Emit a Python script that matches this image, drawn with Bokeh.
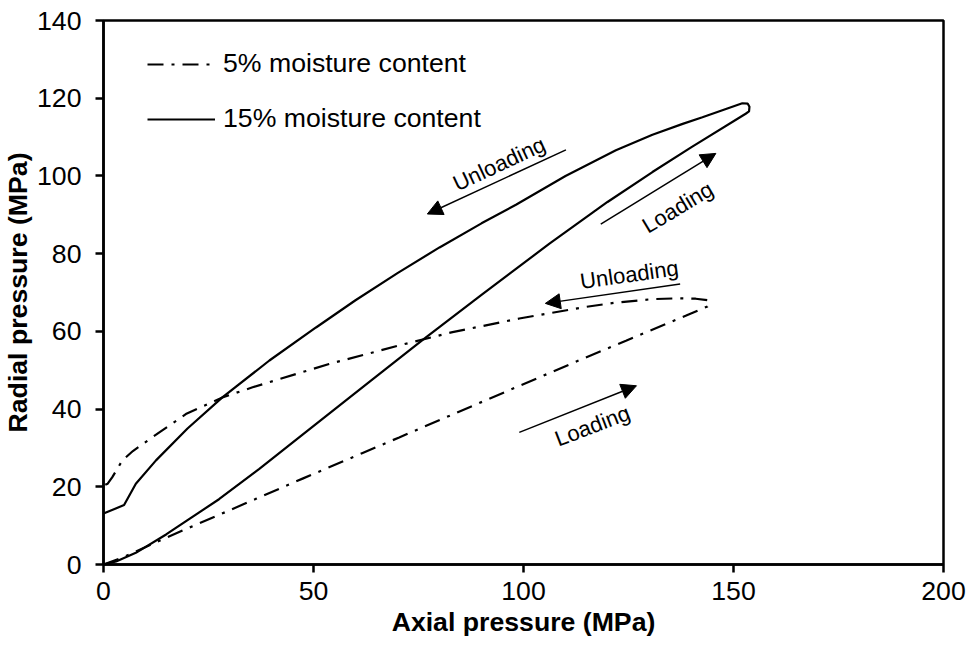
from bokeh.plotting import figure
from bokeh.models import Range1d, Legend, LegendItem, Arrow, NormalHead, Label
from bokeh.embed import file_html
from bokeh.resources import INLINE

# ---- data ----
x5_load = [0, 5, 11.7, 20, 26.7, 36.3, 47.4, 61.7, 70.4, 83.1, 98.2, 106.9, 114, 124.4, 129.9, 138.6, 143.8, 144.3, 144.0]
y5_load = [0, 2.0, 5.3, 9.3, 12.4, 16.9, 22.1, 28.7, 32.7, 38.6, 45.6, 49.6, 52.9, 57.6, 60.1, 64.0, 66.4, 67.2, 68.0]
x5_unload = [144.0, 141, 137, 130.7, 122, 114.8, 99, 83.1, 71.2, 53.7, 35.5, 28.3, 19.6, 11.7, 7, 4.5, 2.1, 1, 0]
y5_unload = [68.0, 68.4, 68.5, 68.3, 67.4, 66.3, 63.3, 59.8, 56.6, 51.6, 45.6, 43.0, 38.7, 32.8, 29.2, 26.8, 22.5, 20.8, 20.3]

x15_load = [0, 3, 7.7, 15, 27.5, 37.1, 47.4, 63.3, 76, 90, 106.1, 120, 130.7, 140, 152.9, 153.7, 153.8, 153.4]
y15_load = [0, 0.8, 3.0, 7.8, 16.8, 24.6, 33.4, 47.0, 57.8, 69.4, 82.5, 93.3, 101.0, 107.4, 116.0, 116.6, 117.8, 118.6]
x15_unload = [153.4, 152.1, 142.6, 137.9, 130.7, 122, 110, 98.2, 90, 80, 70, 60, 50.6, 39.5, 28.3, 20, 12.5, 7.7, 4.9, 0]
y15_unload = [118.6, 118.7, 115.1, 113.4, 110.6, 106.6, 100.0, 92.6, 87.8, 81.6, 75.0, 68.0, 61.0, 52.5, 43.0, 35.0, 26.8, 20.8, 15.3, 13.1]

x_ticks = [0, 50, 100, 150, 200]
y_ticks = [0, 20, 40, 60, 80, 100, 120, 140]

series_labels = ["5% moisture content", "15% moisture content"]

# annotations
ann_texts = ["Unloading", "Loading", "Unloading", "Loading"]
ann_x = [94.2, 136.7, 125.2, 116.4]
ann_y = [103.1, 91.9, 74.6, 35.7]
ann_angle = [25, 31, 8, 21]
arrow_x0 = [110.1, 118.4, 137.3, 99.0]
arrow_y0 = [106.7, 87.6, 72.2, 34.0]
arrow_x1 = [77.1, 145.8, 105.2, 126.9]
arrow_y1 = [90.2, 105.8, 67.2, 46.0]

FONT = "Liberation Sans"

p = figure(frame_width=840, frame_height=544,
           x_range=Range1d(0, 200), y_range=Range1d(0, 140),
           output_backend="svg", toolbar_location=None,
           min_border_left=101, min_border_right=28,
           min_border_top=20, min_border_bottom=88)

p.grid.visible = False
p.outline_line_color = "black"
p.outline_line_width = 2.5
p.background_fill_color = "white"
p.border_fill_color = "white"

for ax in (p.xaxis[0], p.yaxis[0]):
    ax.axis_line_width = 2.5
    ax.major_tick_line_width = 2.5
    ax.major_tick_out = 8
    ax.major_tick_in = 0
    ax.minor_tick_line_color = None
    ax.major_label_text_font = FONT
    ax.major_label_text_font_size = "26.67px"
    ax.major_label_text_color = "black"
    ax.axis_label_text_font = FONT
    ax.axis_label_text_font_size = "26.67px"
    ax.axis_label_text_font_style = "bold"
    ax.axis_label_text_color = "black"

p.xaxis.ticker = x_ticks
p.yaxis.ticker = y_ticks
p.xaxis.axis_label = "Axial pressure (MPa)"
p.yaxis.axis_label = "Radial pressure (MPa)"
p.xaxis.major_label_standoff = 9
p.yaxis.major_label_standoff = 14
p.xaxis.axis_label_standoff = 4
p.yaxis.axis_label_standoff = 1

dash5 = "16 8 3 8"
r5 = p.line(x5_load + x5_unload, y5_load + y5_unload, line_color="black",
            line_width=2.2, line_dash=dash5)
r15 = p.line(x15_load + x15_unload, y15_load + y15_unload, line_color="black",
             line_width=2.2)

legend = Legend(items=[LegendItem(label=series_labels[0], renderers=[r5]),
                       LegendItem(label=series_labels[1], renderers=[r15])],
                location=(44, 430), border_line_color=None,
                background_fill_alpha=0, padding=0, margin=0, spacing=24,
                glyph_width=68, glyph_height=30, label_height=30,
                label_standoff=8, label_text_font=FONT,
                label_text_font_size="26.67px", label_text_color="black")
p.add_layout(legend)

for i in range(len(ann_texts)):
    p.add_layout(Arrow(end=NormalHead(size=15, fill_color="black", line_color="black", line_width=1),
                       x_start=arrow_x0[i], y_start=arrow_y0[i],
                       x_end=arrow_x1[i], y_end=arrow_y1[i],
                       line_color="black", line_width=1.5))
    p.add_layout(Label(x=ann_x[i], y=ann_y[i], text=ann_texts[i],
                       angle=ann_angle[i], angle_units="deg",
                       text_align="center", text_baseline="middle",
                       text_font=FONT, text_font_size="22px", text_color="black"))

open("out.html", "w").write(file_html(p, INLINE))
